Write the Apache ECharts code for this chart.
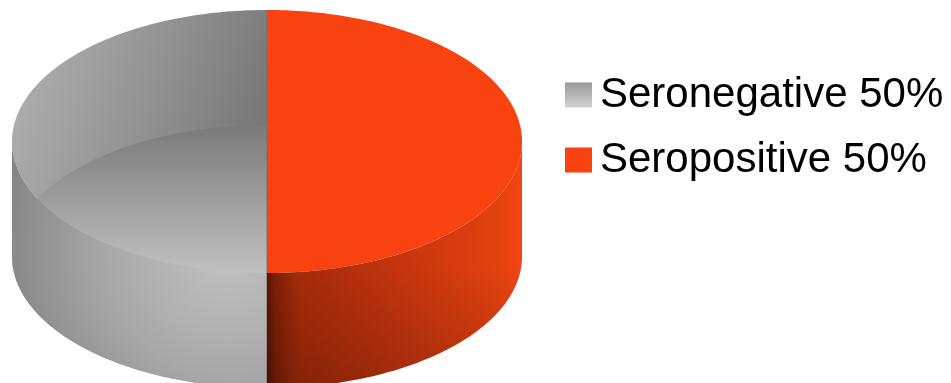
<!DOCTYPE html>
<html><head><meta charset="utf-8">
<script src="https://cdn.jsdelivr.net/npm/echarts@6/dist/echarts.min.js"></script>
<style>html,body{margin:0;padding:0;background:#fff}#c{width:951px;height:383px}</style>
</head><body><div id="c"></div>
<script>
// ---- data ----
const categories = ['Seronegative', 'Seropositive'];
const values = [50, 50];

const total = values.reduce((a, b) => a + b, 0);
const percents = values.map(v => Math.round(v / total * 100));

// ---- layout of the 3D pie ----
const CX = 267, CY = 141.5, RX = 255, RY = 131.5, DEPTH = 115, START = 90;

function pt(deg, dy) {
  const r = deg * Math.PI / 180;
  return [CX + RX * Math.cos(r), CY - RY * Math.sin(r) + (dy || 0)];
}
function arc(a0, a1, dy) {
  const pts = [];
  const n = Math.max(2, Math.ceil(Math.abs(a1 - a0)));
  for (let i = 0; i <= n; i++) pts.push(pt(a0 + (a1 - a0) * i / n, dy));
  return pts;
}
const G = echarts.graphic;

const sliceStyles = [
  { // Seronegative - translucent grey
    top: new G.LinearGradient(0, 0.2, 1, 0.5, [
      { offset: 0, color: '#b0b0b0' }, { offset: 0.6, color: '#8e8e8e' }, { offset: 1, color: '#757575' }]),
    inner: new G.LinearGradient(0, 0, 0, 1, [
      { offset: 0, color: '#7a7a7a' }, { offset: 0.56, color: '#c0c0c0' }, { offset: 1, color: '#c0c0c0' }]),
    wall: new G.RadialGradient(0.85, 0.45, 1, [
      { offset: 0, color: '#c2c2c2' }, { offset: 0.5, color: '#a8a8a8' }, { offset: 1, color: '#808080' }]),
    wallShade: null,
    divider: '#6e6e6e',
    legend: new G.LinearGradient(0, 0, 0, 1, [
      { offset: 0, color: '#999999' }, { offset: 1, color: '#d2d2d2' }])
  },
  { // Seropositive - orange
    top: '#f84311',
    inner: null,
    wall: new G.LinearGradient(0, 0, 1, 0, [
      { offset: 0, color: '#5a1403' }, { offset: 0.03, color: '#7c1f05' }, { offset: 0.12, color: '#a52b0a' },
      { offset: 0.5, color: '#c4340e' }, { offset: 0.9, color: '#e3410f' }, { offset: 1, color: '#f24614' }]),
    wallShade: new G.LinearGradient(0, 0, 0, 1, [
      { offset: 0, color: 'rgba(0,0,0,0)' }, { offset: 0.5, color: 'rgba(0,0,0,0)' }, { offset: 1, color: 'rgba(0,0,0,0.2)' }]),
    divider: null,
    legend: '#f84311'
  }
];

function renderSlice(params, api) {
  const idx = params.seriesIndex;
  const value = api.value(0);
  let cum = 0;
  for (let i = 0; i < idx; i++) cum += values[i];
  const a0 = START + 360 * cum / total;
  const a1 = a0 + 360 * value / total;
  const st = sliceStyles[idx];
  const children = [];
  // top face
  children.push({ type: 'polygon', shape: { points: [[CX, CY]].concat(arc(a0, a1, 0)) }, style: { fill: st.top } });
  // see-through bottom (back inner) sector
  if (st.inner) {
    children.push({ type: 'polygon', shape: { points: [[CX, CY + DEPTH]].concat(arc(a0, a1, DEPTH)) }, style: { fill: st.inner } });
  }
  // visible front wall
  [[180, 360], [540, 720]].forEach(([f0, f1]) => {
    const t0 = Math.max(a0, f0), t1 = Math.min(a1, f1);
    if (t1 > t0) {
      const pts = arc(t0, t1, 0).concat(arc(t1, t0, DEPTH));
      children.push({ type: 'polygon', shape: { points: pts }, style: { fill: st.wall } });
      if (st.wallShade) children.push({ type: 'polygon', shape: { points: pts }, style: { fill: st.wallShade } });
    }
  });
  if (st.divider) {
    const p = pt(a0, 0), q = pt(a1, 0), qb = pt(a1, DEPTH);
    children.push({ type: 'polyline', shape: { points: [p, [CX, CY], q, qb] }, style: { stroke: st.divider, lineWidth: 1, fill: null } });
  }
  return { type: 'group', children };
}

const chart = echarts.init(document.getElementById('c'), null, { renderer: 'canvas' });
chart.setOption({
  animation: false,
  legend: {
    orient: 'vertical',
    left: 560,
    top: 68,
    icon: 'rect',
    itemWidth: 27,
    itemHeight: 25,
    itemGap: 21,
    selectedMode: false,
    textStyle: { fontSize: 42, fontFamily: 'Liberation Sans', color: '#000', lineHeight: 44, padding: [0, 0, 0, 3] },
    data: categories.map((c, i) => ({ name: c, itemStyle: { color: sliceStyles[i].legend } })),
    formatter: name => name + ' ' + percents[categories.indexOf(name)] + '%'
  },
  series: categories.map((c, i) => ({
    type: 'custom',
    name: c,
    coordinateSystem: 'none',
    itemStyle: { color: sliceStyles[i].legend },
    renderItem: renderSlice,
    data: [[values[i]]]
  }))
});
</script>
</body></html>
